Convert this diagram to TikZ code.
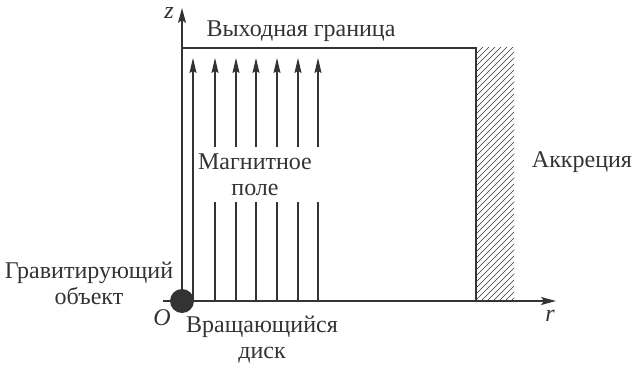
\documentclass[tikz,border=0pt]{standalone}
\usepackage{fontspec}
\setmainfont{Liberation Serif}
\usetikzlibrary{arrows.meta}
\definecolor{ink}{HTML}{333333}
\begin{document}
\begin{tikzpicture}[x=1pt,y=-1pt,
  lbl/.style={text=ink,font=\fontsize{24}{26}\selectfont,inner sep=0pt,align=center},
  axis/.style={draw=ink,line width=1.4pt,-{Stealth[length=15pt,width=8pt,inset=3pt]}},
  fld/.style={draw=ink,line width=1.1pt,-{Stealth[length=15pt,width=7pt,inset=2pt]}},
  fldl/.style={draw=ink,line width=1.1pt},
  bnd/.style={draw=ink,line width=2.6pt},
  hatch/.style={draw=ink,line width=0.6pt}]
\useasboundingbox (0,0) rectangle (632,369);
% coordinates
\coordinate (xs) at (163,301);
\coordinate (xe) at (556,301);
\coordinate (O) at (182,301);
\coordinate (ze) at (182,8);
\coordinate (tl) at (182,48);
\coordinate (tr) at (476,48);
\coordinate (br) at (476,301);
\coordinate (de) at (327,301);
% hatching
\begin{scope}
\clip (476,48) rectangle (514,301);
\foreach \k in {0,...,50} {
  \draw[hatch] (470,{48+6*\k}) -- (520,{48+6*\k-50});
}
\end{scope}
% field lines: first continuous
\coordinate (fa0) at (193,301);
\coordinate (fa1) at (193,58);
\draw[fld] (fa0) -- (fa1);
\foreach \xx/\nm in {215/b,236/c,256/d,277/e,298/f,318/g} {
  \coordinate (f\nm0) at (\xx,301);
  \coordinate (f\nm1) at (\xx,202);
  \coordinate (f\nm2) at (\xx,147);
  \coordinate (f\nm3) at (\xx,58);
  \draw[fldl] (f\nm0) -- (f\nm1);
  \draw[fld] (f\nm2) -- (f\nm3);
}
% magnetic field label
\node[lbl] (mag) at (255,175) {Магнитное\\поле};
% axes
\draw[axis] (xs) -- (xe);
\draw[axis] (O) -- (ze);
% boundary
\draw[bnd] (tl) -- (tr) -- (br);
% disk
\draw[ink,line width=2.6pt] (O) -- (de);
\fill[ink] (O) circle (12);
% labels
\node[lbl] (zl) at (169,13) {\itshape z};
\node[lbl] (rl) at (550,316) {\itshape r};
\node[lbl] (ol) at (162,318) {\itshape O};
\node[lbl] (top) at (301,31) {Выходная граница};
\node[lbl] (acc) at (582,162) {Аккреция};
\node[lbl] (grav) at (89,283) {Гравитирующий\\объект};
\node[lbl] (disk) at (262,340) {Вращающийся\\диск};
\end{tikzpicture}
\end{document}
